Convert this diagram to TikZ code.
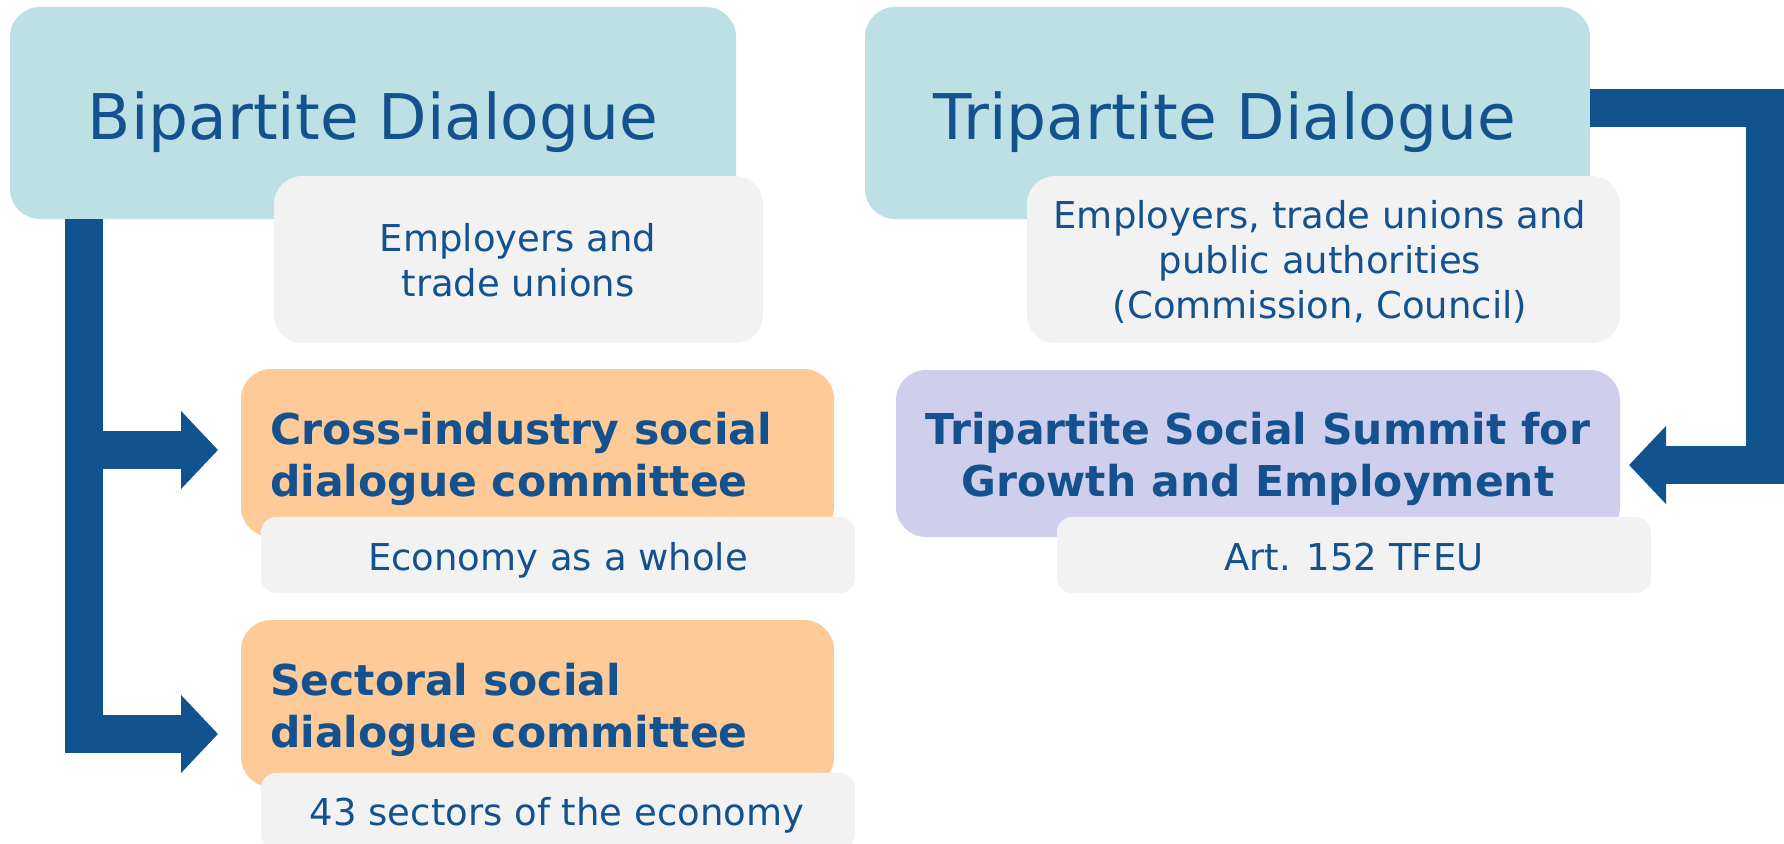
\documentclass[tikz,border=0pt]{standalone}
\usepackage{fontspec}
\setmainfont{DejaVu Sans}
\usetikzlibrary{arrows.meta,calc}
\definecolor{tealbox}{HTML}{BCE0E3}
\definecolor{graybox}{HTML}{F2F2F2}
\definecolor{orangebox}{HTML}{FDCA98}
\definecolor{lavbox}{HTML}{CFCFED}
\definecolor{txtblue}{HTML}{13528F}
\definecolor{arrowblue}{HTML}{10538F}
\begin{document}
\begin{tikzpicture}[x=1pt,y=-1pt,
  box/.style={rounded corners=#1, inner sep=0pt, outer sep=0pt},
  box/.default=30pt,
  title/.style={anchor=base, text=txtblue, inner sep=0pt, font=\fontsize{63}{75}\selectfont},
  small/.style={anchor=base, text=txtblue, inner sep=0pt, align=center, font=\fontsize{37}{44.5}\selectfont},
  boldtxt/.style={anchor=base, text=txtblue, inner sep=0pt, font=\bfseries\fontsize{42.5}{52}\selectfont},
  conn/.style={draw=arrowblue, line width=38pt, -{Triangle[width=76pt,length=37pt]}}
]
\useasboundingbox (0,0) rectangle (1784,843);
\clip (0,0) rectangle (1784,843);
% top boxes
\node[box, fill=tealbox, minimum width=726pt, minimum height=212pt] (bip) at (373,113) {};
\node[box, fill=tealbox, minimum width=725pt, minimum height=212pt] (trip) at (1227.5,113) {};
\node[box=28pt, fill=graybox, minimum width=489pt, minimum height=167pt] (emp1) at (518.5,259.5) {};
\node[box=28pt, fill=graybox, minimum width=593pt, minimum height=167pt] (emp2) at (1323.5,259.5) {};
% committees
\node[box, fill=orangebox, minimum width=593pt, minimum height=168pt] (cross) at (537.5,453) {};
\node[box=15pt, fill=graybox, minimum width=594pt, minimum height=76pt] (econ) at (558,555) {};
\node[box, fill=orangebox, minimum width=593pt, minimum height=167pt] (sect) at (537.5,703.5) {};
\node[box=15pt, fill=graybox, minimum width=594pt, minimum height=76pt] (sec43) at (558,811) {};
\node[box, fill=lavbox, minimum width=724pt, minimum height=167pt] (summit) at (1258,453.5) {};
\node[box=15pt, fill=graybox, minimum width=594pt, minimum height=76pt] (art) at (1354,555) {};
% texts (multi-line nodes: base = last line's baseline)
\node[title] (bipt) at (373,139) {Bipartite Dialogue};
\node[title] (tript) at (1225,139) {Tripartite Dialogue};
\node[small] (emp1t) at (518,296) {Employers and\\trade unions};
\node[small, font=\fontsize{37}{45}\selectfont] (emp2t) at (1320,318) {Employers, trade unions and\\public authorities\\(Commission, Council)};
\node[boldtxt, anchor=base west, align=left] (crosst) at (270,496) {Cross-industry social\\dialogue committee};
\node[boldtxt, anchor=base west, align=left] (sectt) at (270,747) {Sectoral social\\dialogue committee};
\node[boldtxt, align=center] (summitt) at (1258,496) {Tripartite Social Summit for\\Growth and Employment};
\node[small] (econt) at (558,570) {Economy as a whole};
\node[small] (artt) at (1354,570) {Art. 152 TFEU};
\node[small] (sec43t) at (557,825) {43 sectors of the economy};
% connectors
\draw[conn] ($(bip.south west)+(74,0)$) |- ($(cross.west)+(-23,-3)$);
\draw[conn] ($(bip.south west)+(74,0)$) |- ($(sect.west)+(-23,30.5)$);
\draw[conn] ($(trip.east)+(0,-5.5)$) -- ++(175,0) |- ($(summit.east)+(9,11.5)$);
\end{tikzpicture}
\end{document}
